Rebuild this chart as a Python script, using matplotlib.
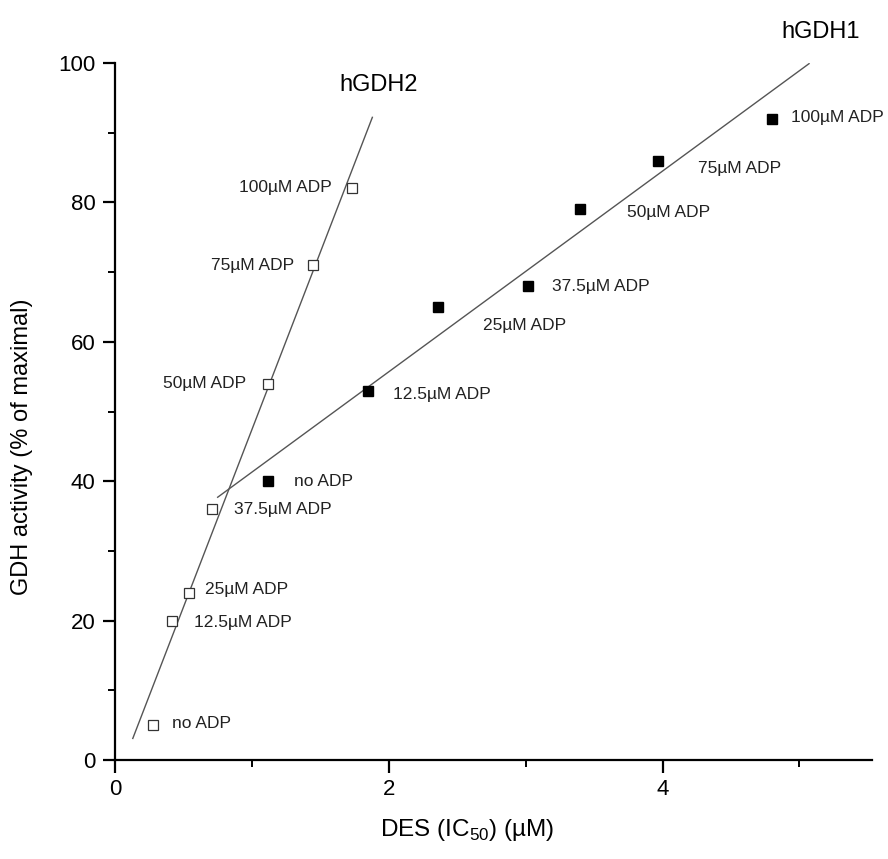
import matplotlib
matplotlib.use("Agg")
import matplotlib.pyplot as plt
from matplotlib.ticker import MultipleLocator

plt.rcParams['font.family'] = ['Liberation Sans', 'DejaVu Sans']

# hGDH2 (open squares)
hgdh2_x = [0.28, 0.42, 0.54, 0.71, 1.12, 1.45, 1.73]
hgdh2_y = [5, 20, 24, 36, 54, 71, 82]
hgdh2_labels = ["no ADP", "12.5µM ADP", "25µM ADP", "37.5µM ADP",
                "50µM ADP", "75µM ADP", "100µM ADP"]
hgdh2_fit_x = [0.13, 1.88]
hgdh2_fit_y = [3.1, 92.2]

# hGDH1 (filled squares)
hgdh1_x = [1.12, 1.85, 2.36, 3.02, 3.40, 3.97, 4.80]
hgdh1_y = [40, 53, 65, 68, 79, 86, 92]
hgdh1_labels = ["no ADP", "12.5µM ADP", "25µM ADP", "37.5µM ADP",
                "50µM ADP", "75µM ADP", "100µM ADP"]
hgdh1_fit_x = [0.75, 5.07]
hgdh1_fit_y = [37.7, 99.9]

# where each label sits
hgdh2_lab_x = [0.42, 0.58, 0.66, 0.87, 0.96, 1.31, 1.58]
hgdh2_lab_y = [5.2, 19.8, 24.4, 36, 54, 71, 82.2]
hgdh2_lab_ha = ["left", "left", "left", "left", "right", "right", "right"]
hgdh1_lab_x = [1.31, 2.03, 2.69, 3.19, 3.74, 4.26, 4.94]
hgdh1_lab_y = [40, 52.5, 62.3, 67.9, 78.6, 84.8, 92.2]

fig = plt.figure(figsize=(8.88, 8.59), dpi=100)
ax = fig.add_axes([0.1295, 0.1152, 0.8525, 0.8115])

ax.plot(hgdh2_fit_x, hgdh2_fit_y, color="#555555", lw=1.0)
ax.plot(hgdh1_fit_x, hgdh1_fit_y, color="#555555", lw=1.0)
ax.plot(hgdh2_x, hgdh2_y, ls="none", marker="s", ms=7.5, mfc="white",
        mec="#333333", mew=0.9)
ax.plot(hgdh1_x, hgdh1_y, ls="none", marker="s", ms=7.2, mfc="black",
        mec="black")

for x, y, t, ha in zip(hgdh2_lab_x, hgdh2_lab_y, hgdh2_labels, hgdh2_lab_ha):
    ax.text(x, y, t, ha=ha, va="center", fontsize=12.5, color="#222222")
for x, y, t in zip(hgdh1_lab_x, hgdh1_lab_y, hgdh1_labels):
    ax.text(x, y, t, ha="left", va="center", fontsize=12.5, color="#222222")

ax.text(1.64, 96.8, "hGDH2", fontsize=17, va="center", ha="left")
ax.text(4.87, 104.4, "hGDH1", fontsize=17, va="center", ha="left", clip_on=False)

ax.set_xlim(0, 5.53)
ax.set_ylim(0, 100)
ax.xaxis.set_major_locator(MultipleLocator(2))
ax.xaxis.set_minor_locator(MultipleLocator(1))
ax.yaxis.set_major_locator(MultipleLocator(20))
ax.yaxis.set_minor_locator(MultipleLocator(10))
ax.spines["top"].set_visible(False)
ax.spines["right"].set_visible(False)
for s in ["left", "bottom"]:
    ax.spines[s].set_linewidth(1.6)
ax.tick_params(which="major", direction="out", length=9, width=1.6,
               labelsize=16, pad=5)
ax.tick_params(which="minor", direction="out", length=5, width=1.4)

ax.set_xlabel("DES (IC$_{\\mathregular{50}}$) (µM)", fontsize=17.5)
ax.set_ylabel("GDH activity (% of maximal)", fontsize=17)
ax.xaxis.set_label_coords(0.465, -0.081)
ax.yaxis.set_label_coords(-0.108, 0.45)

fig.savefig("out.png", dpi=100)
